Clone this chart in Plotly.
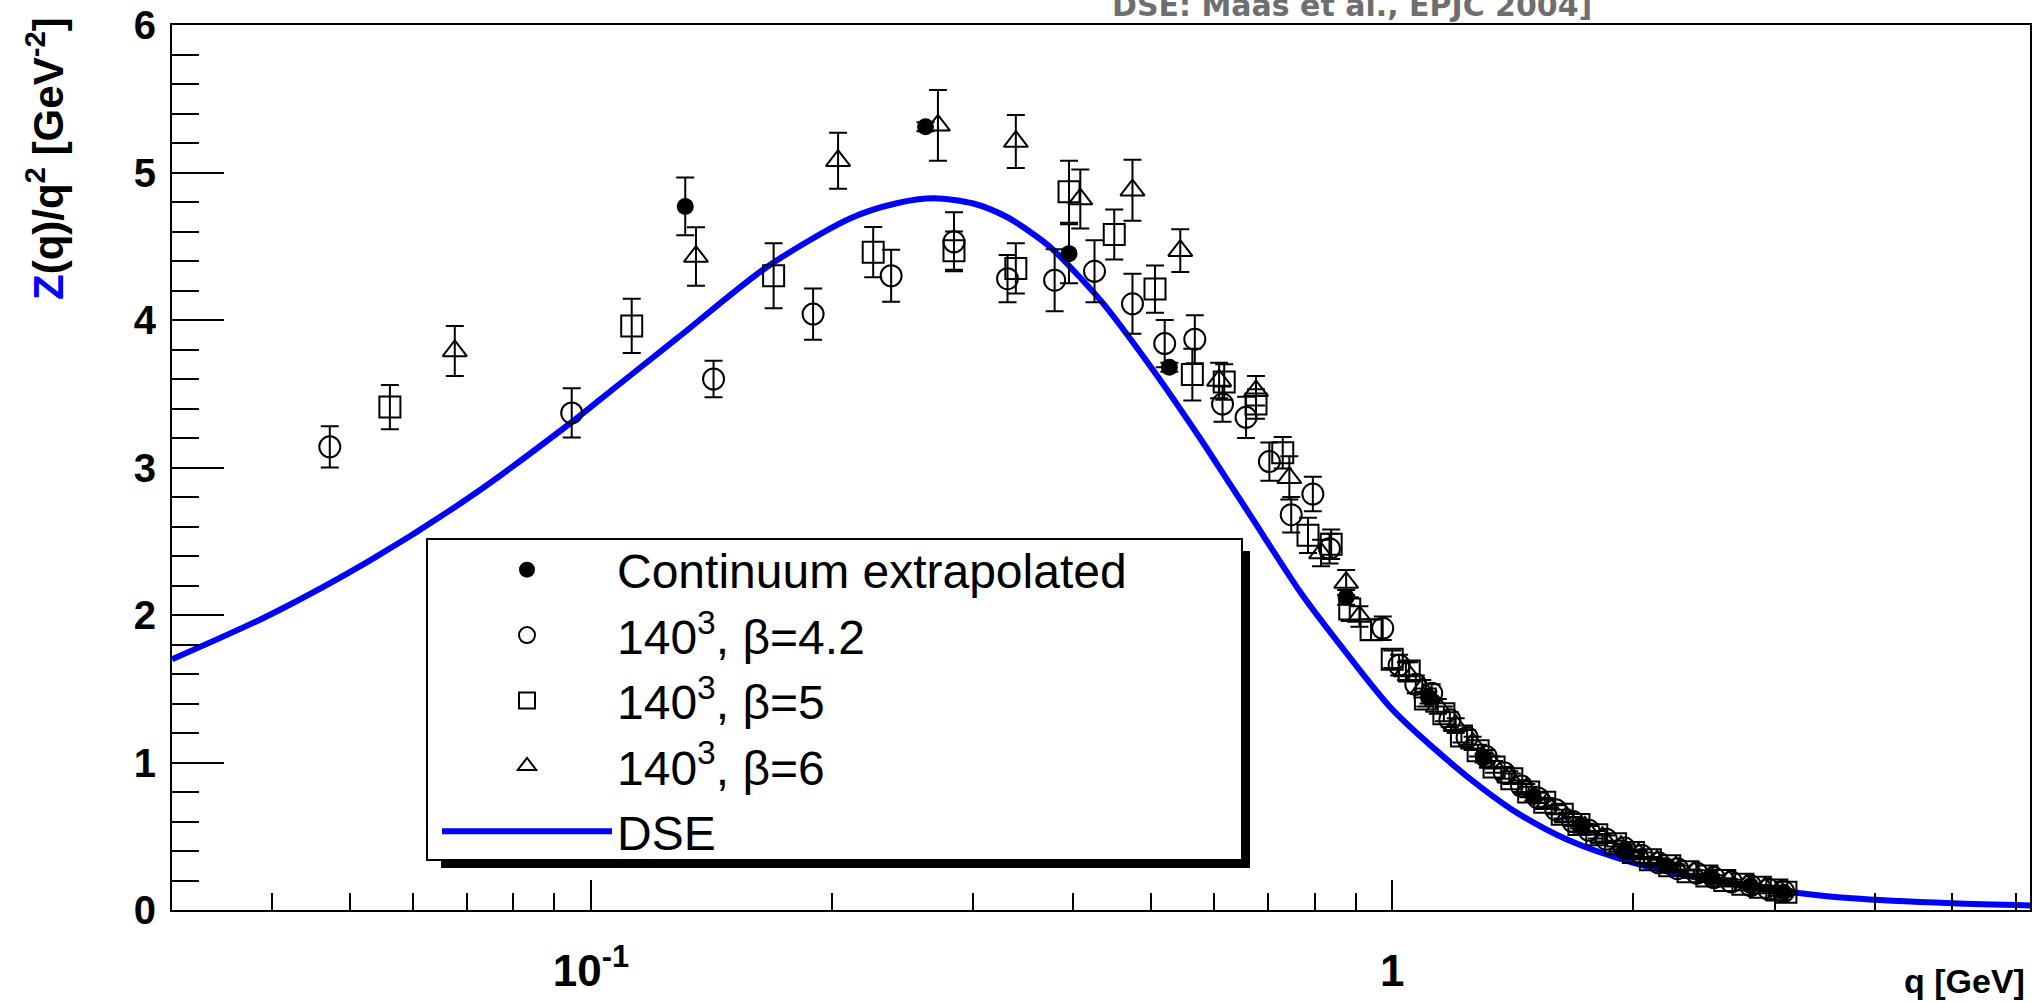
import plotly.graph_objects as go

# ---------------- data ----------------
dse_q = [0.030, 0.0397, 0.0530, 0.0706, 0.0942, 0.1026, 0.1256, 0.1304, 0.1658, 0.2108, 0.240, 0.268,
         0.300, 0.330, 0.357, 0.375, 0.433, 0.500, 0.577, 0.620, 0.667, 0.770, 0.871, 1.000, 1.185,
         1.304, 1.435, 1.658, 2.000, 2.500, 3.120, 3.750, 5.000, 6.300]
dse_y = [1.70, 2.00, 2.37, 2.80, 3.30, 3.46, 3.84, 3.91, 4.36, 4.69, 4.79, 4.825,
         4.79, 4.70, 4.58, 4.49, 4.13, 3.68, 3.19, 2.93, 2.665, 2.146, 1.762, 1.36, 0.994,
         0.813, 0.655, 0.474, 0.32, 0.20, 0.124, 0.079, 0.045, 0.03]

q_cont = [0.1311, 0.2615, 0.395, 0.527, 0.876, 1.11, 1.30, 1.50, 1.72, 1.95, 2.20, 2.50, 2.80, 3.08]
y_cont = [4.77, 5.31, 4.45, 3.68, 2.12, 1.44, 1.03, 0.77, 0.57, 0.41, 0.30, 0.22, 0.165, 0.12]
e_cont = [0.196, 0.03, 0.20, 0.03, 0.05, 0.04, 0.03, 0.03, 0.025, 0.02, 0.02, 0.015, 0.015, 0.015]

q_b42 = [0.0472, 0.0946, 0.1422, 0.1893, 0.2369, 0.2838, 0.331, 0.379, 0.425, 0.474, 0.520, 0.567,
         0.614, 0.657, 0.7025, 0.748, 0.796, 0.835, 0.973, 1.02, 1.07, 1.12, 1.18, 1.24, 1.31, 1.38,
         1.45, 1.52, 1.60, 1.68, 1.76, 1.85, 1.95, 2.05, 2.15, 2.27, 2.40, 2.52, 2.65, 2.80, 2.95, 3.08]
y_b42 = [3.14, 3.37, 3.60, 4.04, 4.30, 4.53, 4.28, 4.27, 4.33, 4.11, 3.84, 3.87,
         3.43, 3.34, 3.04, 2.68, 2.82, 2.45, 1.91, 1.66, 1.53, 1.47, 1.29, 1.17, 1.04, 0.93,
         0.84, 0.76, 0.68, 0.60, 0.54, 0.48, 0.42, 0.37, 0.32, 0.28, 0.25, 0.22, 0.19, 0.165, 0.14, 0.125]
e_b42 = [0.14, 0.167, 0.124, 0.174, 0.177, 0.20, 0.16, 0.21, 0.21, 0.203, 0.16, 0.163,
         0.12, 0.14, 0.13, 0.12, 0.117, 0.10, 0.08, 0.07, 0.06, 0.06, 0.05, 0.05, 0.045, 0.04,
         0.04, 0.035, 0.03, 0.03, 0.03, 0.025, 0.025, 0.02, 0.02, 0.02, 0.02, 0.015, 0.015, 0.015, 0.015, 0.015]

q_b5 = [0.0561, 0.1124, 0.169, 0.225, 0.2838, 0.339, 0.395, 0.4498, 0.5057, 0.563, 0.617, 0.676,
        0.73, 0.785, 0.839, 0.885, 0.941, 1.00, 1.05, 1.10, 1.16, 1.22, 1.28, 1.34, 1.41, 1.48,
        1.55, 1.63, 1.71, 1.80, 1.90, 2.00, 2.10, 2.22, 2.34, 2.47, 2.60, 2.74, 2.88, 3.02, 3.10]
y_b5 = [3.41, 3.96, 4.30, 4.46, 4.47, 4.35, 4.87, 4.58, 4.21, 3.63, 3.58, 3.43,
        3.10, 2.54, 2.48, 2.04, 1.90, 1.70, 1.62, 1.43, 1.33, 1.18, 1.08, 0.97, 0.89, 0.80,
        0.73, 0.65, 0.58, 0.51, 0.45, 0.39, 0.34, 0.30, 0.26, 0.23, 0.20, 0.175, 0.155, 0.135, 0.12]
e_b5 = [0.15, 0.184, 0.22, 0.17, 0.13, 0.17, 0.21, 0.17, 0.16, 0.175, 0.12, 0.10,
        0.106, 0.12, 0.10, 0.08, 0.07, 0.06, 0.06, 0.05, 0.05, 0.045, 0.04, 0.04, 0.035, 0.035,
        0.03, 0.03, 0.025, 0.025, 0.02, 0.02, 0.02, 0.02, 0.015, 0.015, 0.015, 0.015, 0.015, 0.015, 0.015]

q_b6 = [0.0676, 0.1352, 0.2034, 0.271, 0.339, 0.408, 0.474, 0.5438, 0.608, 0.676, 0.744, 0.815,
        0.876, 0.91, 1.04, 1.09, 1.14, 1.20, 1.26, 1.33, 1.40, 1.47, 1.56, 1.65, 1.74, 1.83,
        1.93, 2.03, 2.14, 2.26, 2.38, 2.50, 2.63, 2.77, 2.92, 3.05]
y_b6 = [3.79, 4.43, 5.08, 5.32, 5.21, 4.82, 4.88, 4.47, 3.59, 3.52, 2.93, 2.42,
        2.22, 1.99, 1.62, 1.50, 1.38, 1.25, 1.13, 1.00, 0.90, 0.82, 0.72, 0.63, 0.56, 0.49,
        0.43, 0.38, 0.33, 0.29, 0.255, 0.225, 0.195, 0.17, 0.15, 0.13]
e_b6 = [0.17, 0.198, 0.19, 0.24, 0.18, 0.20, 0.207, 0.145, 0.12, 0.10, 0.147, 0.09,
        0.085, 0.07, 0.06, 0.06, 0.05, 0.05, 0.045, 0.04, 0.04, 0.035, 0.03, 0.03, 0.025, 0.025,
        0.02, 0.02, 0.02, 0.02, 0.015, 0.015, 0.015, 0.015, 0.015, 0.015]

x_tickvals = [0.1, 1]
x_ticktext = ["10<sup>-1</sup>", "1"]
y_tickvals = [0, 1, 2, 3, 4, 5, 6]

names = ["Continuum extrapolated", "140<sup>3</sup>, \u03b2=4.2",
         "140<sup>3</sup>, \u03b2=5", "140<sup>3</sup>, \u03b2=6", "DSE"]

# ---------------- figure ----------------
W, H = 2040, 1002
L, R, T, B = 172, 10, 25, 92
PW, PH = W - L - R, H - T - B

def px_x(p):
    return (p - L) / PW

def px_y(p):
    return (H - B - p) / PH

fig = go.Figure()

fig.add_trace(go.Scatter(
    x=dse_q, y=dse_y, mode="lines", name=names[4],
    line=dict(color="#0000ff", width=6, shape="spline", smoothing=0.8),
    legendgroup="g5", legendrank=5))

def err(arr):
    return dict(type="data", array=arr, visible=True, color="black", thickness=2, width=9)

fig.add_trace(go.Scatter(
    x=q_b42, y=y_b42, mode="markers", name=names[1], error_y=err(e_b42),
    marker=dict(symbol="circle-open", size=21, color="black", line=dict(width=2)),
    legendgroup="g2", legendrank=2))
fig.add_trace(go.Scatter(
    x=q_b5, y=y_b5, mode="markers", name=names[2], error_y=err(e_b5),
    marker=dict(symbol="square-open", size=21, color="black", line=dict(width=2)),
    legendgroup="g3", legendrank=3))
fig.add_trace(go.Scatter(
    x=q_b6, y=y_b6, mode="markers", name=names[3], error_y=err(e_b6),
    marker=dict(symbol="triangle-up-open", size=21, color="black", line=dict(width=2)),
    legendgroup="g4", legendrank=4))
fig.add_trace(go.Scatter(
    x=q_cont, y=y_cont, mode="markers", name=names[0], error_y=err(e_cont),
    marker=dict(symbol="circle", size=17, color="black"),
    legendgroup="g1", legendrank=1))

xtickfont = dict(family="Liberation Sans, Arial, sans-serif", size=44, color="black", weight="bold")
ytickfont = dict(family="Liberation Sans, Arial, sans-serif", size=40, color="black", weight="bold")

fig.update_layout(
    width=W, height=H,
    margin=dict(l=L, r=R, t=T, b=B, autoexpand=False),
    paper_bgcolor="white", plot_bgcolor="white",
    showlegend=True,
    legend=dict(
        x=px_x(437), y=px_y(532), xanchor="left", yanchor="top",
        bgcolor="rgba(0,0,0,0)", borderwidth=0,
        font=dict(family="Liberation Sans, Arial, sans-serif", size=48, color="black"),
        itemwidth=170, tracegroupgap=0, traceorder="grouped",
    ),
    xaxis=dict(
        type="log", range=[-1.523, 0.796], automargin=False,
        tickmode="array", tickvals=x_tickvals, ticktext=x_ticktext,
        ticks="inside", ticklen=30, tickwidth=2, tickcolor="black",
        minor=dict(ticks="inside", ticklen=17, tickwidth=2, tickcolor="black", dtick="D1", showgrid=False),
        showline=True, linecolor="black", linewidth=2, mirror=True,
        showgrid=False, zeroline=False,
        tickfont=xtickfont, ticklabelstandoff=21,
    ),
    yaxis=dict(
        range=[0, 6], tickmode="array", tickvals=y_tickvals, automargin=False,
        ticks="inside", ticklen=52, tickwidth=2, tickcolor="black",
        minor=dict(ticks="inside", ticklen=27, tickwidth=2, tickcolor="black", dtick=0.2, showgrid=False),
        showline=True, linecolor="black", linewidth=2, mirror=True,
        showgrid=False, zeroline=False,
        tickfont=ytickfont, ticklabelstandoff=6,
    ),
)

# legend frame with shadow (drawn as layout shapes above the traces)
fig.add_shape(type="rect", xref="paper", yref="paper",
              x0=px_x(441), x1=px_x(1250), y0=px_y(868), y1=px_y(551),
              fillcolor="black", line=dict(width=0), layer="above")
fig.add_shape(type="rect", xref="paper", yref="paper",
              x0=px_x(427), x1=px_x(1242), y0=px_y(860), y1=px_y(539),
              fillcolor="white", line=dict(color="black", width=2), layer="above")

# axis titles
fig.add_annotation(
    text="<span style='color:#0000ff'>Z</span>(q)/q<sup>2</sup> [GeV<sup>-2</sup>]",
    xref="paper", yref="paper", x=px_x(45), y=px_y(158), textangle=-90,
    xanchor="center", yanchor="middle", showarrow=False,
    font=dict(family="Liberation Sans, Arial, sans-serif", size=42, color="black", weight="bold"))
fig.add_annotation(
    text="q [GeV]", xref="paper", yref="paper", x=px_x(2027), y=0,
    xanchor="right", yanchor="top", yshift=-50, showarrow=False,
    font=dict(family="Liberation Sans, Arial, sans-serif", size=34, color="black", weight="bold"))
# reference note, partly cut by the top of the picture
fig.add_annotation(
    text="DSE: Maas et al., EPJC 2004]", xref="paper", yref="paper", x=px_x(1352), y=1,
    xanchor="center", yanchor="bottom", yshift=0, showarrow=False,
    font=dict(family="DejaVu Sans, sans-serif", size=30, color="#6e6e6e", weight="bold"))

fig.write_html("out.html", include_plotlyjs=True, config={"displayModeBar": False},
               post_script="document.body.style.margin='0';document.body.style.overflow='hidden';")
